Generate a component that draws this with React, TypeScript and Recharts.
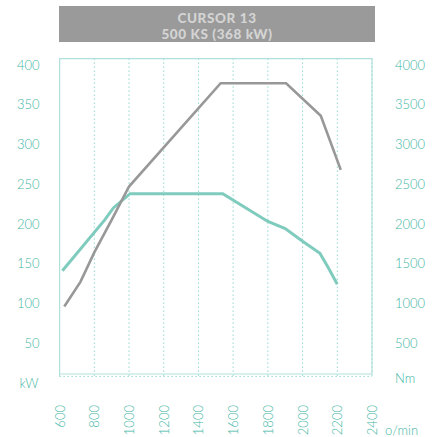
import React from 'react';
import { LineChart, Line, XAxis, YAxis, CartesianGrid, ReferenceArea, Label } from 'recharts';

const rpmTicks = [600, 800, 1000, 1200, 1400, 1600, 1800, 2000, 2200, 2400];
const kwTicks = [50, 100, 150, 200, 250, 300, 350, 400];
const nmTicks = [500, 1000, 1500, 2000, 2500, 3000, 3500, 4000];

const powerRpm = [616, 860, 910, 1006, 1540, 1800, 1900, 2000, 2100, 2150, 2200];
const powerKw = [133, 197, 212, 230, 230, 195, 186, 170, 155, 136, 116];

const torqueRpm = [627, 720, 800, 900, 1000, 1528, 1905, 2105, 2220];
const torqueNm = [880, 1190, 1560, 1970, 2390, 3690, 3690, 3280, 2600];

const powerData = powerRpm.map((r, i) => ({ rpm: r, kw: powerKw[i] }));
const torqueData = torqueRpm.map((r, i) => ({ rpm: r, nm: torqueNm[i] }));

const TEAL_TEXT = '#3fb5a5';
const FONT = 'Lato, "Open Sans", sans-serif';

const LeftTick = (p: any) => (
  <text x={p.x} y={p.y + 6} textAnchor="end" dominantBaseline="central" fill={TEAL_TEXT} fontSize={13} fontFamily={FONT} fontWeight={300}>
    {p.payload.value}
  </text>
);
const RightTick = (p: any) => (
  <text x={p.x} y={p.y + 6} textAnchor="start" dominantBaseline="central" fill={TEAL_TEXT} fontSize={13} fontFamily={FONT} fontWeight={300}>
    {p.payload.value}
  </text>
);
const BottomTick = (p: any) => (
  <text x={p.x} y={p.y} transform={`rotate(-90 ${p.x} ${p.y})`} textAnchor="end" dominantBaseline="central" fill={TEAL_TEXT} fontSize={13} fontFamily={FONT} fontWeight={300}>
    {p.payload.value}
  </text>
);

export default function App() {
  return (
    <div style={{ position: 'absolute', left: 0, top: 0, width: 435, height: 437, background: '#fff' }}>
      <div
        style={{
          position: 'absolute', left: 59, top: 6, width: 316, height: 36, background: '#9a9a9a',
          color: '#d4d4d4', fontFamily: FONT, fontWeight: 900, fontSize: 13.5, lineHeight: '16px',
          textAlign: 'center', paddingTop: 3.5, boxSizing: 'border-box', letterSpacing: 0.6,
        }}
      >
        <div>CURSOR 13</div>
        <div>500 KS (368 kW)</div>
      </div>
      <LineChart width={435} height={437} margin={{ top: 58.6, right: 0, bottom: 0, left: 0 }} style={{ position: 'absolute', left: 0, top: 0 }}>
        <CartesianGrid stroke="#5cc4b6" strokeDasharray="1 3" />
        <XAxis
          dataKey="rpm" type="number" domain={[600, 2400]} ticks={rpmTicks} allowDuplicatedCategory={false}
          height={60.6} axisLine={false} tickLine={false} tickSize={0} tickMargin={28.6} tick={<BottomTick />} interval={0}
        >
          <Label content={(props: any) => {
            const vb = props.viewBox;
            return <text x={vb.x + vb.width + 13} y={vb.y + vb.height - 2} fill={TEAL_TEXT} fontSize={13} fontFamily={FONT} fontWeight={300}>o/min</text>;
          }} />
        </XAxis>
        <YAxis
          yAxisId="left" orientation="left" domain={[0, 400]} ticks={kwTicks} width={59.6}
          axisLine={false} tickLine={false} tickSize={0} tickMargin={20} tick={<LeftTick />} interval={0}
        >
          <Label content={(props: any) => {
            const vb = props.viewBox;
            return <text x={vb.x + vb.width - 21} y={vb.y + vb.height + 7} textAnchor="end" dominantBaseline="central" fill={TEAL_TEXT} fontSize={13} fontFamily={FONT} fontWeight={300}>kW</text>;
          }} />
        </YAxis>
        <YAxis
          yAxisId="right" orientation="right" domain={[0, 4000]} ticks={nmTicks} width={63}
          axisLine={false} tickLine={false} tickSize={0} tickMargin={23} tick={<RightTick />} interval={0}
        >
          <Label content={(props: any) => {
            const vb = props.viewBox;
            return <text x={vb.x + 23} y={vb.y + vb.height + 2} textAnchor="start" dominantBaseline="central" fill={TEAL_TEXT} fontSize={13} fontFamily={FONT} fontWeight={300}>Nm</text>;
          }} />
        </YAxis>
        <ReferenceArea yAxisId="left" x1={600} x2={2400} y1={3} y2={400} fill="none" stroke="#b2e1dc" strokeWidth={1.2} ifOverflow="visible" />
        <Line yAxisId="left" data={powerData} dataKey="kw" type="linear" stroke="#7fccbe" strokeWidth={3} dot={false} isAnimationActive={false} />
        <Line yAxisId="right" data={torqueData} dataKey="nm" type="linear" stroke="#989898" strokeWidth={2.6} dot={false} isAnimationActive={false} />
      </LineChart>
    </div>
  );
}
